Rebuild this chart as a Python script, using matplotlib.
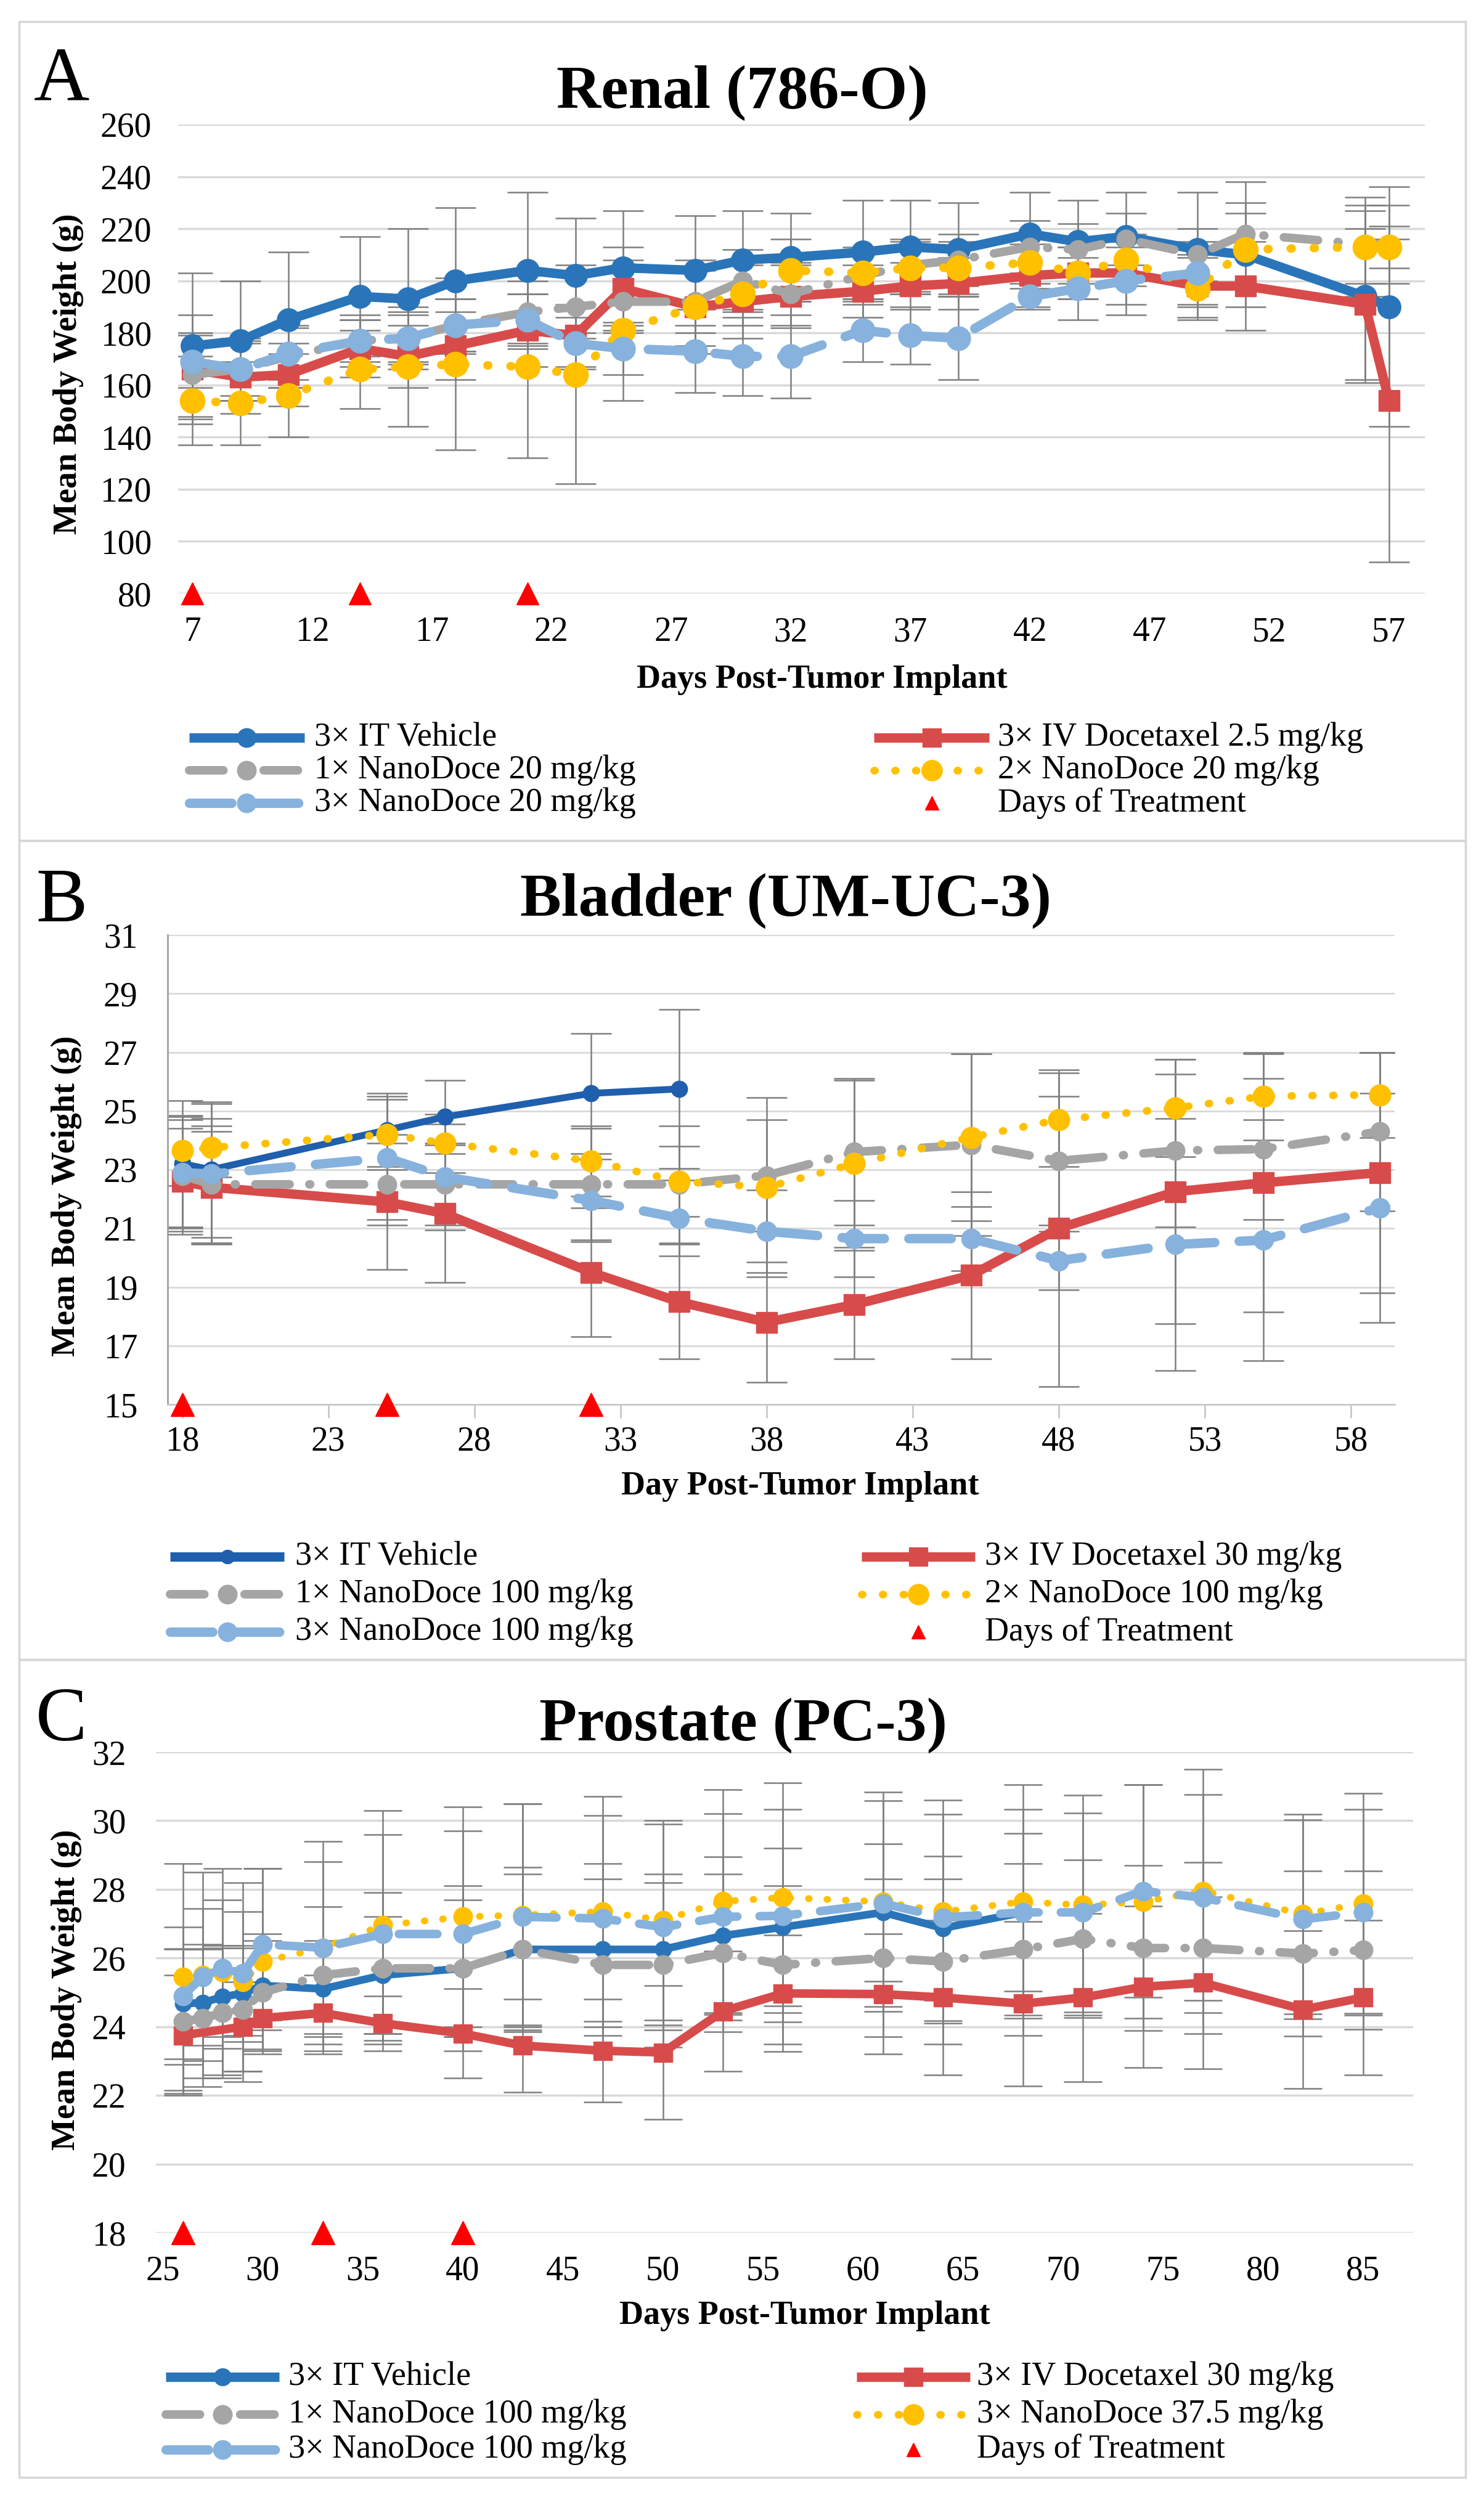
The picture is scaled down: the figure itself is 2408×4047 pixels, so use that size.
import matplotlib
matplotlib.use("Agg")
import matplotlib.pyplot as plt
from matplotlib.lines import Line2D
from matplotlib.patches import Rectangle

plt.rcParams['font.family'] = ['Liberation Serif', 'DejaVu Serif']

W, H = 2408, 4047

# ---------------- DATA ----------------
# Panel A: Renal (786-O)
a_days = [7, 9, 11, 14, 16, 18, 21, 23, 25, 28, 30, 32, 35, 37, 39, 42, 44, 46, 49, 51, 56, 57]
a_vehicle = [175, 177, 185, 194, 193, 200, 204, 202, 205, 204, 208, 209, 211, 213, 212, 218, 215, 217, 212, 210, 194, 190]
a_vehicle_err = [28, 23, 26, 23, 27, 28, 30, 22, 22, 21, 19, 17, 20, 18, 18, 16, 16, 17, 22, 20, 33, 46]
a_doce = [166, 163, 164, 174, 171, 175, 181, 179, 197, 190, 192, 194, 196, 198, 199, 202, 203, 203, 198, 198, 191, 154]
a_doce_err = [21, 14, 12, 11, 12, 13, 14, 12, 16, 15, 14, 12, 10, 9, 10, 12, 10, 12, 12, 17, 29, 62]
a_nano1 = [164, 166, 171, 177, 178, 183, 188, 190, 192, 192, 200, 195, 202, 206, 208, 213, 212, 216, 210, 218, 214, 214]
a_nano1_err = [16, 12, 12, 8, 9, 10, 12, 12, 12, 12, 12, 12, 10, 10, 10, 10, 10, 10, 10, 20, 15, 15]
a_nano2 = [154, 153, 156, 166, 167, 168, 167, 164, 181, 190, 195, 204, 203, 205, 205, 207, 203, 208, 197, 212, 213, 213]
a_nano2_err = [17, 16, 16, 15, 23, 33, 35, 42, 27, 18, 12, 12, 10, 10, 10, 10, 10, 10, 12, 14, 19, 8]
a_nano3_days = [7, 9, 11, 14, 16, 18, 21, 23, 25, 28, 30, 32, 35, 37, 39, 42, 44, 46, 49]
a_nano3 = [169, 166, 172, 177, 178, 183, 185, 176, 174, 173, 171, 171, 181, 179, 178, 194, 197, 200, 203]
a_nano3_err = [10, 10, 10, 10, 10, 10, 10, 10, 10, 16, 15, 16, 12, 11, 16, 5, 12, 13, 12]
a_treat = [7, 14, 21]
a_labels = ["3\u00d7 IT Vehicle", "3\u00d7 IV Docetaxel 2.5 mg/kg", "1\u00d7 NanoDoce 20 mg/kg",
            "2\u00d7 NanoDoce 20 mg/kg", "3\u00d7 NanoDoce 20 mg/kg", "Days of Treatment"]

# Panel B: Bladder (UM-UC-3)
b_days = [18, 19, 25, 27, 32, 35, 38, 41, 45, 48, 52, 55, 59]
b_vehicle_days = [18, 19, 25, 27, 32, 35]
b_vehicle = [23.2, 23.0, 24.35, 24.8, 25.6, 25.75]
b_vehicle_err = [2.15, 2.3, 1.25, 1.25, 2.05, 2.7]
b_doce = [22.6, 22.4, 21.9, 21.5, 19.5, 18.5, 17.8, 18.4, 19.4, 21.0, 22.25, 22.55, 22.9]
b_doce_err = [1.8, 1.9, 2.3, 2.35, 2.2, 1.95, 2.05, 1.85, 2.85, 5.4, 4.5, 4.4, 4.1]
b_nano1 = [22.8, 22.5, 22.5, 22.5, 22.5, 22.5, 22.8, 23.6, 23.85, 23.3, 23.65, 23.7, 24.3]
b_nano1_err = [1.9, 2.0, 1.4, 1.4, 1.9, 2.0, 1.9, 2.5, 3.1, 2.2, 2.6, 2.4, 2.7]
b_nano2 = [23.65, 23.75, 24.2, 23.9, 23.3, 22.6, 22.4, 23.2, 24.1, 24.7, 25.1, 25.5, 25.55]
b_nano2_err = [1.2, 1.0, 1.2, 1.0, 1.2, 1.2, 3.05, 2.85, 2.85, 1.6, 1.65, 1.5, 1.45]
b_nano3 = [22.9, 22.85, 23.4, 22.75, 21.95, 21.35, 20.9, 20.65, 20.65, 19.9, 20.45, 20.6, 21.7]
b_nano3_err = [1.9, 2.4, 2.1, 1.8, 1.4, 1.3, 1.4, 1.3, 1.1, 1.0, 4.3, 4.1, 3.9]
b_treat = [18, 25, 32]
b_labels = ["3\u00d7 IT Vehicle", "3\u00d7 IV Docetaxel 30 mg/kg", "1\u00d7 NanoDoce 100 mg/kg",
            "2\u00d7 NanoDoce 100 mg/kg", "3\u00d7 NanoDoce 100 mg/kg", "Days of Treatment"]

# Panel C: Prostate (PC-3)
c_days = [26, 27, 28, 29, 30, 33, 36, 40, 43, 47, 50, 53, 56, 61, 64, 68, 71, 74, 77, 82, 85]
c_vehicle_days = [26, 27, 28, 29, 30, 33, 36, 40, 43, 47, 50, 53, 56, 61, 64, 68]
c_vehicle = [24.67, 24.7, 24.87, 24.97, 25.2, 25.1, 25.5, 25.7, 26.25, 26.25, 26.25, 26.65, 26.9, 27.33, 26.87, 27.33]
c_vehicle_err = [1.6, 1.7, 1.5, 1.4, 1.3, 1.4, 1.7, 2.0, 2.2, 2.5, 2.2, 2.3, 2.3, 2.0, 2.1, 2.3]
c_doce_days = [26, 29, 30, 33, 36, 40, 43, 47, 50, 53, 56, 61, 64, 68, 71, 74, 77, 82, 85]
c_doce = [23.75, 24.0, 24.25, 24.4, 24.1, 23.8, 23.45, 23.3, 23.25, 24.45, 24.97, 24.95, 24.85, 24.67, 24.85, 25.16, 25.28, 24.5, 24.85]
c_doce_err = [1.75, 1.3, 0.9, 1.1, 0.8, 1.3, 1.35, 1.5, 1.95, 1.75, 1.7, 1.75, 2.25, 2.4, 2.45, 2.35, 2.5, 2.3, 2.25]
c_nano1 = [24.15, 24.25, 24.4, 24.5, 25.0, 25.5, 25.7, 25.7, 26.25, 25.8, 25.8, 26.15, 25.8, 26.0, 25.9, 26.25, 26.56, 26.29, 26.29, 26.13, 26.23]
c_nano1_err = [2.1, 2.0, 1.9, 1.8, 1.7, 2.0, 2.2, 2.4, 2.4, 2.5, 2.4, 2.3, 2.3, 2.3, 2.4, 2.5, 2.3, 2.4, 2.5, 2.4, 2.3]
c_nano375 = [25.45, 25.5, 25.6, 25.3, 25.9, 26.3, 26.95, 27.2, 27.25, 27.35, 27.1, 27.65, 27.76, 27.64, 27.35, 27.64, 27.54, 27.64, 27.95, 27.28, 27.59]
c_nano375_err = [3.3, 3.0, 3.0, 2.9, 2.7, 3.1, 3.35, 3.2, 3.25, 3.35, 2.9, 3.25, 3.35, 3.2, 3.25, 3.4, 3.2, 3.4, 3.55, 2.9, 3.2]
c_nano3 = [24.9, 25.45, 25.7, 25.55, 26.4, 26.3, 26.7, 26.7, 27.2, 27.15, 26.9, 27.2, 27.23, 27.59, 27.18, 27.33, 27.33, 27.95, 27.76, 27.13, 27.33]
c_nano3_err = [2.0, 2.0, 2.0, 1.8, 2.2, 2.5, 2.9, 3.0, 3.3, 3.0, 3.0, 3.0, 3.1, 3.0, 3.0, 3.0, 2.9, 3.1, 3.0, 2.9, 3.0]
c_treat = [26, 33, 40]
c_labels = ["3\u00d7 IT Vehicle", "3\u00d7 IV Docetaxel 30 mg/kg", "1\u00d7 NanoDoce 100 mg/kg",
            "3\u00d7 NanoDoce 37.5 mg/kg", "3\u00d7 NanoDoce 100 mg/kg", "Days of Treatment"]

# ---------------- STYLE ----------------
BLUE = '#2A75B9'
DBLUE = '#1F5FAD'
RED = '#D84B4B'
GRAY = '#A5A5A5'
YEL = '#FFC000'
LBLUE = '#86B2DD'
TRI = '#FF0000'
ECOL = '#7F7F7F'
GRID = '#D9D9D9'

LS_SOLID = '-'
LS_DOT = (0, (0.1, 2.6))
LS_DASHDOT = (0, (4, 2.3, 0.1, 2.3))
LS_DASH = (0, (4.5, 2.6))

TICK_FS = 40
LAB_FS = 39
LEG_FS = 39


def px2fig(x, y):
    return x / W, 1 - y / H


fig = plt.figure(figsize=(W / 100, H / 100), dpi=100)
fig.patch.set_facecolor('white')

# panel frames
for (y0, y1) in [(35, 1364), (1364, 2693), (2693, 4020)]:
    fig.add_artist(Rectangle((31 / W, 1 - y1 / H), (2378 - 31) / W, (y1 - y0) / H,
                             transform=fig.transFigure, fill=False, edgecolor='#D6D6D6', lw=2.5))


def make_ax(l, r, t, b):
    ax = fig.add_axes([l / W, 1 - b / H, (r - l) / W, (b - t) / H])
    return ax


def series(ax, x, y, e, color, lw, ls, marker, ms, z, capsize, elw=1.8):
    ax.errorbar(x, y, yerr=e, fmt='none', ecolor=ECOL, elinewidth=elw, capsize=capsize,
                capthick=elw, zorder=2)
    ax.plot(x, y, color=color, lw=lw, linestyle=ls, marker=marker, ms=ms, mfc=color, mec=color,
            dash_capstyle='round', solid_capstyle='round', zorder=z)


def style_axes(ax, ylim, yticks, xlim, xticks, ypad, xpad, spines=False, gridlw=2.5):
    ax.set_ylim(*ylim)
    ax.set_xlim(*xlim)
    ax.set_yticks(yticks)
    ax.set_xticks(xticks)
    ax.yaxis.grid(True, color=GRID, lw=gridlw, zorder=0)
    ax.set_axisbelow(True)
    for s in ax.spines.values():
        s.set_visible(False)
    if spines:
        ax.spines['left'].set_visible(True)
        ax.spines['left'].set_color('#A0A0A0')
        ax.spines['left'].set_linewidth(2)
        ax.spines['bottom'].set_visible(True)
        ax.spines['bottom'].set_color('#C8C8C8')
        ax.spines['bottom'].set_linewidth(2)
        ax.tick_params(axis='x', length=16, width=2, color='#C8C8C8', direction='out', pad=xpad,
                       labelsize=TICK_FS)
        ax.tick_params(axis='y', length=0, pad=ypad, labelsize=TICK_FS)
    else:
        ax.tick_params(axis='x', length=0, pad=xpad, labelsize=TICK_FS)
        ax.tick_params(axis='y', length=0, pad=ypad, labelsize=TICK_FS)


def legend(rows, lx0, lx1, ltx, rx0, rx1, rtx, entries):
    # entries: list of 6 tuples (label, color, lw, ls, marker, ms)
    for i, (lab, color, lw, ls, mk, ms) in enumerate(entries):
        col = i % 2
        row = i // 2
        y = rows[row]
        x0, x1, tx = (lx0, lx1, ltx) if col == 0 else (rx0, rx1, rtx)
        fy = 1 - y / H
        if ls is not None:
            fig.add_artist(Line2D([x0 / W, x1 / W], [fy, fy], transform=fig.transFigure, color=color,
                                  lw=lw, linestyle=ls, dash_capstyle='round', solid_capstyle='butt'))
        fig.add_artist(Line2D([(x0 + x1) / 2 / W], [fy], transform=fig.transFigure, color=color,
                              marker=mk, ms=ms, mfc=color, mec=color, lw=0))
        fig.text(tx / W, fy, lab, fontsize=LEG_FS, va='center', ha='left')


# ================= Panel A =================
axA = make_ax(289, 2312, 202, 963)
cap = 24
series(axA, a_days, a_vehicle, a_vehicle_err, BLUE, 11, LS_SOLID, 'o', 27, 3, cap)
series(axA, a_days, a_doce, a_doce_err, RED, 11, LS_SOLID, 's', 25, 4, cap)
series(axA, a_days, a_nano1, a_nano1_err, GRAY, 10, LS_DASHDOT, 'o', 22, 5, cap)
series(axA, a_days, a_nano2, a_nano2_err, YEL, 10, LS_DOT, 'o', 29, 6, cap)
series(axA, a_nano3_days, a_nano3, a_nano3_err, LBLUE, 11, LS_DASH, 'o', 28, 7, cap)
axA.plot(a_treat, [80] * len(a_treat), linestyle='none', marker='^', ms=26, color=TRI, clip_on=False, zorder=8)
style_axes(axA, (80, 260), list(range(80, 261, 20)), (6.4, 58.5), list(range(7, 58, 5)), 31, 27)

fig.text(*px2fig(1204, 175), "Renal (786-O)", fontsize=72, fontweight='bold', ha='center', va='baseline')
fig.text(*px2fig(100, 163), "A", fontsize=90, ha='center', va='baseline')
fig.text(*px2fig(1334, 1103), "Days Post-Tumor Implant", fontsize=LAB_FS, fontweight='bold', ha='center', va='center')
fig.text(*px2fig(111, 607), "Mean Body Weight (g)", fontsize=LAB_FS, fontweight='bold', ha='center', va='center', rotation=90)
legend([1197, 1250, 1303], 307, 494, 510, 1418, 1605, 1619, [
    (a_labels[0], BLUE, 11, LS_SOLID, 'o', 22),
    (a_labels[1], RED, 11, LS_SOLID, 's', 22),
    (a_labels[2], GRAY, 10, LS_DASHDOT, 'o', 22),
    (a_labels[3], YEL, 9, LS_DOT, 'o', 24),
    (a_labels[4], LBLUE, 11, LS_DASH, 'o', 22),
    (a_labels[5], TRI, 0, None, '^', 16),
])

# ================= Panel B =================
axB = make_ax(272, 2263, 1517, 2279)
cap = 24
series(axB, b_vehicle_days, b_vehicle, b_vehicle_err, DBLUE, 8, LS_SOLID, 'o', 19, 3, cap)
series(axB, b_days, b_doce, b_doce_err, RED, 11, LS_SOLID, 's', 25, 4, cap)
series(axB, b_days, b_nano1, b_nano1_err, GRAY, 10, LS_DASHDOT, 'o', 22, 5, cap)
series(axB, b_days, b_nano2, b_nano2_err, YEL, 9, LS_DOT, 'o', 25, 6, cap)
series(axB, b_days, b_nano3, b_nano3_err, LBLUE, 11, LS_DASH, 'o', 23, 7, cap)
axB.plot(b_treat, [15] * len(b_treat), linestyle='none', marker='^', ms=28, color=TRI, clip_on=False, zorder=8)
style_axes(axB, (15, 31), list(range(15, 32, 2)), (17.5, 59.5), list(range(18, 59, 5)), 35, 9,
           spines=True, gridlw=2)

fig.text(*px2fig(1275, 1486), "Bladder (UM-UC-3)", fontsize=72, fontweight='bold', ha='center', va='baseline')
fig.text(*px2fig(100, 1495), "B", fontsize=90, ha='center', va='baseline')
fig.text(*px2fig(1298, 2412), "Day Post-Tumor Implant", fontsize=LAB_FS, fontweight='bold', ha='center', va='center')
fig.text(*px2fig(108, 1941), "Mean Body Weight (g)", fontsize=LAB_FS, fontweight='bold', ha='center', va='center', rotation=90)
legend([2526, 2587, 2648], 276, 461, 479, 1398, 1582, 1598, [
    (b_labels[0], DBLUE, 11, LS_SOLID, 'o', 16),
    (b_labels[1], RED, 11, LS_SOLID, 's', 22),
    (b_labels[2], GRAY, 10, LS_DASHDOT, 'o', 22),
    (b_labels[3], YEL, 9, LS_DOT, 'o', 24),
    (b_labels[4], LBLUE, 11, LS_DASH, 'o', 22),
    (b_labels[5], TRI, 0, None, '^', 16),
])

# ================= Panel C =================
axC = make_ax(253, 2293, 2843, 3623)
cap = 22
series(axC, c_vehicle_days, c_vehicle, c_vehicle_err, BLUE, 9, LS_SOLID, 'o', 19, 3, cap)
series(axC, c_doce_days, c_doce, c_doce_err, RED, 10, LS_SOLID, 's', 22, 4, cap)
series(axC, c_days, c_nano1, c_nano1_err, GRAY, 10, LS_DASHDOT, 'o', 22, 5, cap)
series(axC, c_days, c_nano375, c_nano375_err, YEL, 8, LS_DOT, 'o', 22, 6, cap)
series(axC, c_days, c_nano3, c_nano3_err, LBLUE, 10, LS_DASH, 'o', 22, 7, cap)
axC.plot(c_treat, [18] * len(c_treat), linestyle='none', marker='^', ms=28, color=TRI, clip_on=False, zorder=8)
style_axes(axC, (18, 32), list(range(18, 33, 2)), (24.66, 87.5), list(range(25, 86, 5)), 35, 26)

fig.text(*px2fig(1206, 2824), "Prostate (PC-3)", fontsize=72, fontweight='bold', ha='center', va='baseline')
fig.text(*px2fig(100, 2824), "C", fontsize=90, ha='center', va='baseline')
fig.text(*px2fig(1306, 3758), "Days Post-Tumor Implant", fontsize=LAB_FS, fontweight='bold', ha='center', va='center')
fig.text(*px2fig(108, 3229), "Mean Body Weight (g)", fontsize=LAB_FS, fontweight='bold', ha='center', va='center', rotation=90)
legend([3857, 3918, 3975], 269, 453, 468, 1390, 1574, 1585, [
    (c_labels[0], BLUE, 11, LS_SOLID, 'o', 20),
    (c_labels[1], RED, 11, LS_SOLID, 's', 22),
    (c_labels[2], GRAY, 10, LS_DASHDOT, 'o', 22),
    (c_labels[3], YEL, 9, LS_DOT, 'o', 24),
    (c_labels[4], LBLUE, 11, LS_DASH, 'o', 22),
    (c_labels[5], TRI, 0, None, '^', 16),
])

fig.savefig('out.png', dpi=100, facecolor='white')
